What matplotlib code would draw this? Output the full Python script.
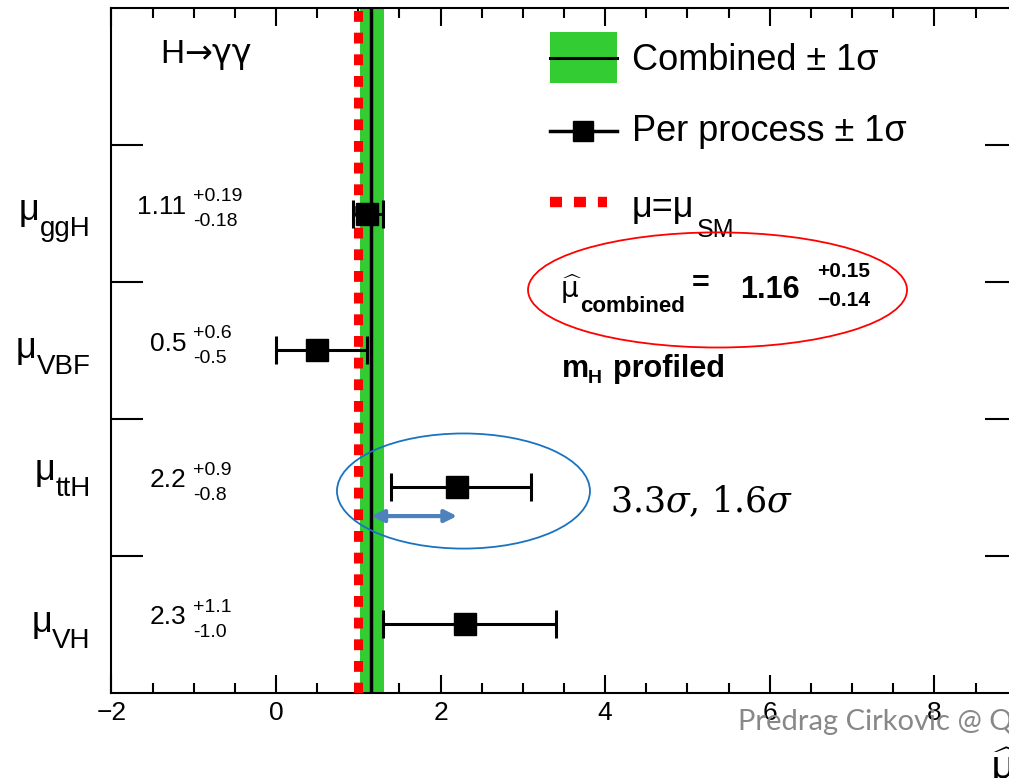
import matplotlib
matplotlib.use('Agg')
import matplotlib.pyplot as plt
from matplotlib.patches import Ellipse, Rectangle
from matplotlib.lines import Line2D
from matplotlib.ticker import MultipleLocator, NullLocator

#%% signal strengths per production mode, H -> gamma gamma
processes = ['ggH', 'VBF', 'ttH', 'VH']
mu_val = [1.11, 0.5, 2.2, 2.3]
mu_up = [0.19, 0.6, 0.9, 1.1]
mu_dn = [0.18, 0.5, 0.8, 1.0]
val_txt = ['1.11', '0.5', '2.2', '2.3']
up_txt = ['+0.19', '+0.6', '+0.9', '+1.1']
dn_txt = ['-0.18', '-0.5', '-0.8', '-1.0']
row_pos = [3.5, 2.5, 1.5, 0.5]

mu_comb = 1.16
comb_up = 0.15
comb_dn = 0.14
mu_sm = 1.0

# label nudges (points) for the left-hand row names
name_dy = [-16, -17, -6, -17]

GREEN = '#33cc33'
RED = '#ff0000'

plt.rcParams['font.family'] = ['Liberation Sans', 'DejaVu Sans']

fig = plt.figure(figsize=(10.09, 7.78), dpi=100)
ax = fig.add_axes([0.1104, 0.1097, 0.8972, 0.8797])
ax.set_xlim(-2, 9)
ax.set_ylim(0, 5)

for s in ax.spines.values():
    s.set_linewidth(1.5)

ax.xaxis.set_major_locator(MultipleLocator(2))
ax.xaxis.set_minor_locator(MultipleLocator(0.5))
ax.tick_params(axis='x', which='major', direction='in', length=13, width=1.5,
               top=True, labelsize=19, pad=6)
ax.tick_params(axis='x', which='minor', direction='in', length=7, width=1.5, top=True)
ax.set_yticks([1, 2, 3, 4])
ax.yaxis.set_minor_locator(NullLocator())
ax.tick_params(axis='y', direction='in', length=23, width=1.5, right=True,
               labelleft=False)

#%% combined result, SM line, per-process points
ax.axvspan(mu_comb - comb_dn, mu_comb + comb_up, color=GREEN, lw=0, zorder=1)
ax.axvline(mu_comb, color='black', lw=2.5, zorder=2)
ax.axvline(mu_sm, color=RED, lw=6.5, linestyle=(0, (1.2, 1.2)), zorder=3)
ax.errorbar(mu_val, row_pos, xerr=[mu_dn, mu_up], fmt='s', color='black', ms=16,
            elinewidth=2.2, capsize=10, capthick=2.2, zorder=5)

#%% row names and values
for i, p in enumerate(processes):
    y = row_pos[i]
    sub = ax.annotate(p, xy=(0, y), xycoords=('axes fraction', 'data'),
                      xytext=(-15, name_dy[i]), textcoords='offset points',
                      ha='right', va='baseline', fontsize=20)
    ax.annotate('μ', xy=(0, 1), xycoords=sub, xytext=(0, -3),
                textcoords='offset points', ha='right', va='baseline', fontsize=26)
    ax.annotate(val_txt[i], xy=(0, y), xycoords=('axes fraction', 'data'),
                xytext=(54, 5), textcoords='offset points', ha='right', va='center',
                fontsize=19)
    ax.annotate(up_txt[i], xy=(0, y), xycoords=('axes fraction', 'data'),
                xytext=(59, 12), textcoords='offset points', ha='left', va='center',
                fontsize=14)
    ax.annotate(dn_txt[i], xy=(0, y), xycoords=('axes fraction', 'data'),
                xytext=(59, -6), textcoords='offset points', ha='left', va='center',
                fontsize=14)


def axf(px, py):
    # pixel position on the canvas -> axes fraction
    return ((px - 111.4) / 905.3, (692.7 - py) / 684.5)


T = ax.transAxes
h_txt = ax.text(*axf(160, 63), 'H', transform=T, fontsize=24, va='baseline')
ax.annotate('→γγ', xy=(1, 0), xycoords=h_txt, xytext=(0, 0),
            textcoords='offset points', fontsize=24, family='DejaVu Sans',
            va='bottom')

#%% legend
x0, y0 = axf(550, 83)
x1, y1 = axf(617, 32)
ax.add_patch(Rectangle((x0, y0), x1 - x0, y1 - y0, transform=T, color=GREEN, lw=0))
ym = axf(0, 58)[1]
ax.add_line(Line2D([x0, x1], [ym, ym], transform=T, color='black', lw=2.2))
ax.text(*axf(632, 60), 'Combined ± 1σ', transform=T, fontsize=26, va='center')

ym = axf(0, 131)[1]
ax.add_line(Line2D([x0, x1], [ym, ym], transform=T, color='black', lw=2.5))
ax.add_line(Line2D([(x0 + x1) / 2], [ym], transform=T, color='black', marker='s', ms=15))
ax.text(*axf(632, 131), 'Per process ± 1σ', transform=T, fontsize=26, va='center')

ym = axf(0, 202)[1]
ax.add_line(Line2D([x0, axf(607, 0)[0]], [ym, ym], transform=T, color=RED, lw=7.5,
                   linestyle=(0, (1.15, 1.15))))
ax.text(*axf(632, 217), 'μ=μ', transform=T, fontsize=26, va='baseline')
ax.text(*axf(697, 237), 'SM', transform=T, fontsize=18, va='baseline')

#%% combined value in the red ellipse
ax.add_patch(Ellipse((5.365, 2.942), 4.605, 0.841, fill=False, ec=RED, lw=1.3, zorder=6))
ax.text(*axf(560, 298), r'$\widehat{\mathrm{\mu}}$', transform=T, fontsize=20,
        va='baseline', math_fontfamily='dejavusans')
ax.text(*axf(580, 312), 'combined', transform=T, fontsize=16, weight='bold', va='baseline')
ax.text(*axf(701, 284), '=', transform=T, fontsize=22, weight='bold', ha='center',
        va='center')
ax.text(*axf(740, 298), f'{mu_comb:.2f}', transform=T, fontsize=22, weight='bold',
        va='baseline')
ax.text(*axf(817, 271), f'+{comb_up:.2f}', transform=T, fontsize=15, weight='bold',
        va='center')
ax.text(*axf(817, 300), f'\u2212{comb_dn:.2f}', transform=T, fontsize=15,
        weight='bold', va='center')

ax.text(*axf(562, 377), 'm', transform=T, fontsize=22, weight='bold', va='baseline')
ax.text(*axf(588, 383), 'H', transform=T, fontsize=14, weight='bold', va='baseline')
ax.text(*axf(613, 377), 'profiled', transform=T, fontsize=22, weight='bold',
        va='baseline')

#%% ttH tension
ax.add_patch(Ellipse((2.278, 1.473), 3.074, 0.841, fill=False, ec='#1a73c0', lw=1.3,
                     zorder=6))
ax.annotate('', xy=(mu_val[2], 1.29), xytext=(mu_comb, 1.29),
            arrowprops=dict(arrowstyle='<|-|>', color='#4f81bd', lw=3,
                            mutation_scale=18, shrinkA=0, shrinkB=0), zorder=7)
ax.text(*axf(610, 512), r'3.3$\sigma$, 1.6$\sigma$', transform=T, fontsize=25,
        family='DejaVu Serif', math_fontfamily='dejavuserif', va='baseline')

#%% footer
fig.text(738 / 1009, (778 - 730) / 778, 'Predrag Cirkovic @ Q', color='#888888',
         fontsize=21, family='Lato', va='baseline')
fig.text(990 / 1009, (778 - 746) / 778, r'$\widehat{\mathrm{\mu}}$', fontsize=28,
         va='top', math_fontfamily='dejavusans')

fig.savefig('out.png', dpi=100)
